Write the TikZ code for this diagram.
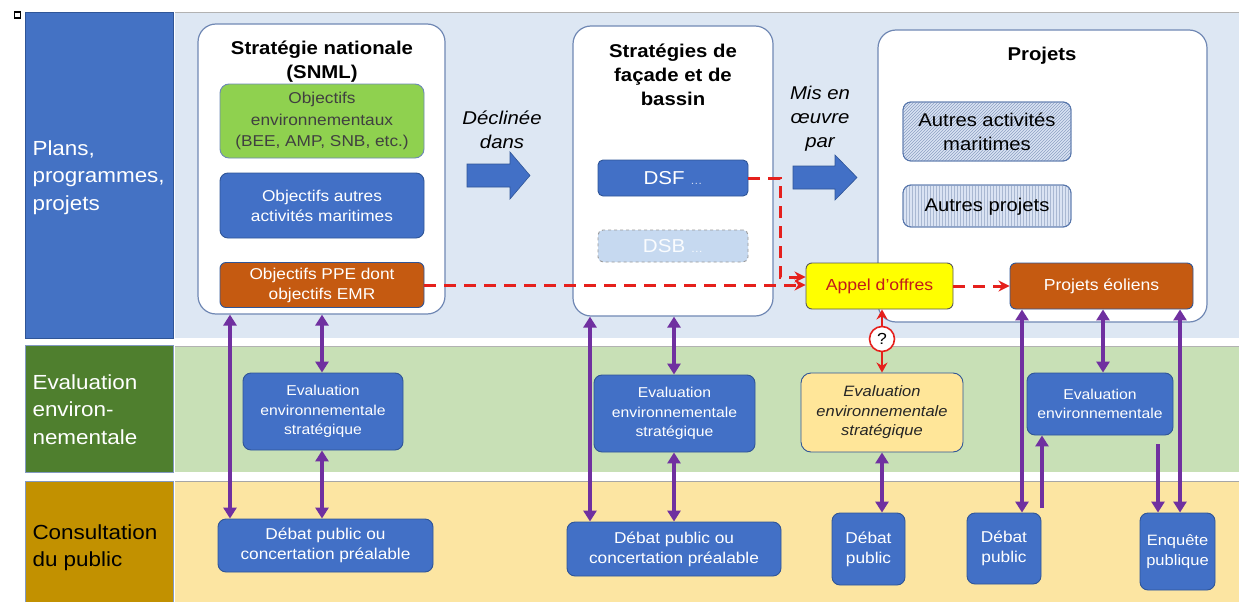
\documentclass[tikz,border=0pt]{standalone}
\usepackage{fontspec}
\setmainfont{Liberation Sans}[FakeStretch=1.1]
\usetikzlibrary{patterns,arrows.meta,calc}
\definecolor{bandblue}{HTML}{DDE7F3}
\definecolor{bandgreen}{HTML}{C8E0B6}
\definecolor{bandyellow}{HTML}{FCE5A2}
\definecolor{labblue}{HTML}{4472C4}
\definecolor{labgreen}{HTML}{4F7F2E}
\definecolor{labgold}{HTML}{C29100}
\definecolor{boxblue}{HTML}{4270C6}
\definecolor{boxblueline}{HTML}{2F5597}
\definecolor{boxorange}{HTML}{C55A11}
\definecolor{boxgreen}{HTML}{8FD14F}
\definecolor{boxyellow}{HTML}{FFE699}
\definecolor{appyellow}{HTML}{FFFF00}
\definecolor{redline}{HTML}{E5201C}
\definecolor{purp}{HTML}{7030A0}
\definecolor{frame}{HTML}{7088B4}
\definecolor{paleblue}{HTML}{C6D9F0}
\definecolor{hatchblue}{HTML}{DAE3F3}
\begin{document}
\begin{tikzpicture}[x=1pt,y=-1pt,
  bigbox/.style={draw=frame,line width=1.2pt,fill=white,rounded corners=18pt},
  bluebox/.style={draw=boxblueline,line width=0.9pt,fill=boxblue,rounded corners=8pt,text=white,align=center},
  orangebox/.style={draw=boxblueline,line width=0.9pt,fill=boxorange,rounded corners=6pt,text=white,align=center},
  title/.style={font=\fontsize{18.5}{24}\selectfont\bfseries,align=center},
  lab/.style={anchor=north west,align=left,font=\fontsize{20.4}{27.5}\selectfont},
  txt/.style={font=\fontsize{15.7}{20}\selectfont},
  stxt/.style={font=\fontsize{14.3}{19.5}\selectfont},
  parr/.style={draw=purp,line width=3.4pt,{Triangle[length=11pt,width=13pt]}-{Triangle[length=11pt,width=13pt]}},
  parrone/.style={draw=purp,line width=3.4pt,-{Triangle[length=11pt,width=13pt]}},
  rdash/.style={draw=redline,line width=3pt,dash pattern=on 12pt off 8pt,-{Stealth[length=11pt,width=11pt]}},
  rarr/.style={draw=redline,line width=2.6pt,-{Stealth[length=10pt,width=11pt]}},
  blockarr/.style={fill=boxblue,draw=boxblueline,line width=0.6pt}
]
\useasboundingbox (0,0) rectangle (1239,602);
\fill[white] (0,0) rectangle (1239,602);
% small marker
\draw[black,line width=1.6pt,fill=white] (14.5,12) rectangle (20.5,18);
% bands
\fill[bandblue] (175,12) rectangle (1239,338);
\draw[gray!60,line width=0.8pt] (175,12.5) -- (1239,12.5);
\fill[bandgreen] (175,346) rectangle (1239,472);
\draw[gray!60,line width=0.8pt] (175,346) -- (1239,346);
\fill[bandyellow] (175,481) rectangle (1239,602);
\draw[gray!70,line width=0.8pt] (175,481) -- (1239,481);
% left labels
\node[fill=labblue,draw=boxblueline,line width=0.6pt,minimum width=148pt,minimum height=326pt,inner sep=0pt] (lab1) at (99,175) {};
\node[lab,text=white] (lab1t) at (29,137) {Plans,\\programmes,\\projets};
\node[fill=labgreen,draw=boxblueline!60,line width=0.6pt,minimum width=148pt,minimum height=127pt,inner sep=0pt] (lab2) at (99,409) {};
\node[lab,text=white] (lab2t) at (29,371) {Evaluation\\environ-\\nementale};
\node[fill=labgold,draw=boxblueline!60,line width=0.6pt,minimum width=148pt,minimum height=121pt,inner sep=0pt] (lab3) at (99,542) {};
\node[lab,text=black] (lab3t) at (29,521) {Consultation\\du public};
% big boxes
\node[bigbox,minimum width=247pt,minimum height=290pt] (snml) at (321.5,169) {};
\node[title] (snmlt) at (322,62) {Stratégie nationale\\(SNML)};
\node[bigbox,minimum width=200pt,minimum height=290pt] (fac) at (673,171) {};
\node[title] (fact) at (673,75) {Stratégies de\\façade et de\\bassin};
\node[bigbox,minimum width=329pt,minimum height=292pt] (proj) at (1042.5,176) {};
\node[title] (projt) at (1042,56) {Projets};
% SNML inner boxes
\node[draw=boxblueline!70,line width=0.9pt,fill=boxgreen,rounded corners=9pt,text=black!75,align=center,minimum width=204pt,minimum height=74pt,inner sep=0pt,font=\fontsize{15.7}{21.5}\selectfont] (obenv) at (322,121) {Objectifs\\environnementaux\\(BEE, AMP, SNB, etc.)};
\node[bluebox,minimum width=204pt,minimum height=65pt,inner sep=0pt,txt] (obaut) at (322,205.5) {Objectifs autres\\activités maritimes};
\node[orangebox,minimum width=204pt,minimum height=45pt,inner sep=0pt,txt] (obppe) at (322,285) {Objectifs PPE dont\\objectifs EMR};
% facade inner
\node[bluebox,rounded corners=5pt,minimum width=150pt,minimum height=36pt,inner sep=0pt,font=\fontsize{18.7}{20}\selectfont] (dsf) at (673,178) {DSF {\fontsize{11}{12}\selectfont\color{white!75!boxblue}…}};
\node[draw=gray!80,dashed,line width=0.9pt,fill=paleblue,rounded corners=5pt,minimum width=150pt,minimum height=32pt,inner sep=0pt,text=white!92!paleblue,font=\fontsize{18.7}{20}\selectfont] (dsb) at (673,246) {DSB {\fontsize{11}{12}\selectfont…}};
% projets inner
\node[draw=boxblueline!80,line width=0.9pt,fill=hatchblue,rounded corners=8pt,minimum width=168pt,minimum height=59pt,inner sep=0pt] (autactbg) at (987,131.5) {};
\fill[pattern=north east lines,pattern color=frame!80,rounded corners=8pt] (903,102) rectangle (1071,161);
\draw[boxblueline!80,line width=0.9pt,rounded corners=8pt] (903,102) rectangle (1071,161);
\node[align=center,font=\fontsize{18.4}{24}\selectfont] (autact) at (987,132) {Autres activités\\maritimes};
\node[draw=boxblueline!80,line width=0.9pt,fill=hatchblue,rounded corners=8pt,minimum width=168pt,minimum height=42pt,inner sep=0pt] (autprojbg) at (987,206) {};
\fill[pattern=vertical lines,pattern color=frame!60,rounded corners=8pt] (903,185) rectangle (1071,227);
\draw[boxblueline!80,line width=0.9pt,rounded corners=8pt] (903,185) rectangle (1071,227);
\node[font=\fontsize{18.4}{24}\selectfont] (autproj) at (987,207) {Autres projets};
\node[draw=gray!70!black,line width=0.9pt,fill=appyellow,rounded corners=6pt,minimum width=147pt,minimum height=46pt,inner sep=0pt,text=redline!85!black,font=\fontsize{16}{20}\selectfont] (appel) at (879.5,286) {Appel d’offres};
\node[orangebox,minimum width=183pt,minimum height=46pt,inner sep=0pt,font=\fontsize{16}{20}\selectfont] (eol) at (1101.5,286) {Projets éoliens};
% block arrows
\filldraw[blockarr] (467,164) -- (510,164) -- (510,152) -- (530,175.5) -- (510,199) -- (510,187) -- (467,187) -- cycle;
\node[font=\fontsize{18.5}{24}\selectfont\itshape,align=center] (decl) at (502,130) {Déclinée\\dans};
\filldraw[blockarr] (793,166) -- (835,166) -- (835,155) -- (857,177.5) -- (835,200) -- (835,189) -- (793,189) -- cycle;
\node[font=\fontsize{18.5}{24}\selectfont\itshape,align=center] (mis) at (820,119) {Mis en\\œuvre\\par};
% row 2
\node[bluebox,minimum width=160pt,minimum height=77pt,inner sep=0pt,stxt] (ev1) at (323,411.5) {Evaluation\\environnementale\\stratégique};
\node[bluebox,minimum width=161pt,minimum height=77pt,inner sep=0pt,stxt] (ev2) at (674.5,413.5) {Evaluation\\environnementale\\stratégique};
\node[draw=boxblueline,line width=0.9pt,fill=boxyellow,rounded corners=10pt,align=center,minimum width=162pt,minimum height=79pt,inner sep=0pt,font=\fontsize{15}{19.5}\selectfont\itshape,text=black!85] (ev3) at (882,412.5) {Evaluation\\environnementale\\stratégique};
\node[bluebox,minimum width=146pt,minimum height=62pt,inner sep=0pt,stxt] (ev4) at (1100,404) {Evaluation\\environnementale};
% row 3
\node[bluebox,minimum width=215pt,minimum height=53pt,inner sep=0pt,txt] (deb1) at (325.5,545.5) {Débat public ou\\concertation préalable};
\node[bluebox,minimum width=214pt,minimum height=54pt,inner sep=0pt,txt] (deb2) at (674,549) {Débat public ou\\concertation préalable};
\node[bluebox,minimum width=73pt,minimum height=72pt,inner sep=0pt,txt] (deb3) at (868.5,549) {Débat\\public};
\node[bluebox,minimum width=74pt,minimum height=71pt,inner sep=0pt,txt] (deb4) at (1004,548.5) {Débat\\public};
\node[bluebox,minimum width=75pt,minimum height=77pt,inner sep=0pt,font=\fontsize{15}{20}\selectfont] (enq) at (1177.5,551.5) {Enquête\\publique};
% red dashed connectors
\coordinate (turn1) at (780,178);
\coordinate (turn2) at (780,277);
\draw[rdash] (dsf.east) -- (turn1) -- (turn2) -- (turn2 -| appel.west);
\draw[rdash] (obppe.east) -- (obppe.east -| appel.west);
\draw[rdash] (appel.east) -- (eol.west);
% question circle
\node[circle,draw=redline,line width=1.6pt,fill=white,minimum size=25pt,inner sep=0pt,font=\fontsize{16}{16}\selectfont] (q) at (882,339) {?};
\draw[rarr] (q.north) -- (appel.south -| q.north);
\draw[rarr] (q.south) -- (ev3.north -| q.south);
% purple arrows
\draw[parr] (230,0 |- snml.south) -- (230,0 |- deb1.north);
\draw[parr] (322,0 |- snml.south) -- (322,0 |- ev1.north);
\draw[parr] (322,0 |- ev1.south) -- (322,0 |- deb1.north);
\draw[parr] (590,0 |- fac.south) -- (590,0 |- deb2.north);
\draw[parr] (674,0 |- fac.south) -- (674,0 |- ev2.north);
\draw[parr] (674,0 |- ev2.south) -- (674,0 |- deb2.north);
\draw[parr] (882,0 |- ev3.south) -- (882,0 |- deb3.north);
\draw[parr] (1022,0 |- eol.south) -- (1022,0 |- deb4.north);
\draw[parr] (1103,0 |- eol.south) -- (1103,0 |- ev4.north);
\draw[parr] (1180,0 |- eol.south) -- (1180,0 |- enq.north);
\coordinate (upstart) at (1042,508);
\draw[parrone] (upstart) -- (upstart |- ev4.south);
\coordinate (dnstart) at (1158,444);
\draw[parrone] (dnstart) -- (dnstart |- enq.north);
\end{tikzpicture}
\end{document}
